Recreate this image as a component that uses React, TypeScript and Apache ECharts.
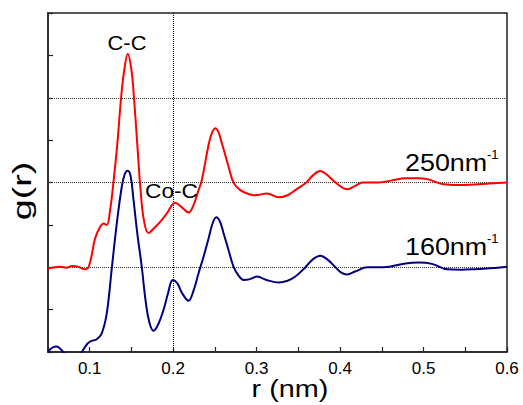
import React, { useEffect, useRef } from "react";
import * as echarts from "echarts";

// r (nm) and g(r) for the 250 nm^-1 curve (offset baseline 4)
const redR = [0.05, 0.058, 0.065, 0.072, 0.079, 0.085, 0.09, 0.0944, 0.098, 0.102, 0.1064, 0.1124, 0.1164, 0.1204, 0.1244, 0.1284, 0.133, 0.1376, 0.141, 0.1456, 0.15, 0.153, 0.157, 0.161, 0.165, 0.1704, 0.177, 0.1844, 0.1924, 0.2024, 0.21, 0.2184, 0.224, 0.2304, 0.2344, 0.242, 0.246, 0.2504, 0.254, 0.2584, 0.2624, 0.2664, 0.2724, 0.2804, 0.29, 0.2984, 0.3124, 0.3264, 0.337, 0.3464, 0.3596, 0.368, 0.3764, 0.385, 0.3944, 0.4088, 0.418, 0.4268, 0.446, 0.462, 0.4784, 0.4928, 0.5048, 0.524, 0.548, 0.575, 0.6];
const redG = [1.97, 2.0, 2.01, 1.99, 2.03, 2.02, 1.98, 1.95, 1.98, 2.25, 2.68, 2.95, 3.03, 3.0, 3.35, 4.0, 4.9, 6.0, 6.6, 7.04, 6.65, 6.0, 4.9, 3.8, 3.1, 2.81, 2.92, 3.07, 3.27, 3.52, 3.42, 3.29, 3.45, 3.82, 4.06, 4.85, 5.15, 5.28, 5.2, 4.92, 4.65, 4.37, 3.99, 3.82, 3.73, 3.7, 3.74, 3.65, 3.7, 3.82, 4.0, 4.18, 4.27, 4.17, 4.0, 3.84, 3.92, 4.0, 4.0, 4.05, 4.1, 4.1, 4.08, 3.96, 3.94, 3.97, 4.0];

// r (nm) and g(r) for the 160 nm^-1 curve (offset baseline 2)
const blueR = [0.05, 0.055, 0.0604, 0.066, 0.0704, 0.078, 0.085, 0.0904, 0.0944, 0.0984, 0.1034, 0.1084, 0.1144, 0.1204, 0.1264, 0.1324, 0.1384, 0.142, 0.1456, 0.149, 0.1524, 0.157, 0.1624, 0.167, 0.1714, 0.1764, 0.182, 0.1884, 0.194, 0.1996, 0.205, 0.2104, 0.2184, 0.2244, 0.2304, 0.2364, 0.2424, 0.247, 0.2516, 0.256, 0.2604, 0.2664, 0.2724, 0.2784, 0.2844, 0.292, 0.3004, 0.312, 0.3264, 0.337, 0.3464, 0.3584, 0.367, 0.3764, 0.385, 0.3944, 0.401, 0.4084, 0.418, 0.4328, 0.452, 0.4784, 0.494, 0.51, 0.5288, 0.545, 0.5648, 0.585, 0.6];
const blueG = [0.0, 0.1, 0.13, 0.05, -0.05, -0.2, -0.12, 0.0, 0.12, 0.22, 0.27, 0.3, 0.44, 0.91, 1.97, 3.03, 3.9, 4.2, 4.28, 4.15, 3.6, 2.8, 2.0, 1.2, 0.7, 0.5, 0.65, 0.99, 1.4, 1.7, 1.62, 1.4, 1.21, 1.45, 1.86, 2.25, 2.68, 3.02, 3.18, 3.08, 2.8, 2.4, 2.01, 1.8, 1.7, 1.72, 1.78, 1.7, 1.64, 1.68, 1.78, 2.0, 2.18, 2.27, 2.18, 2.0, 1.88, 1.83, 1.9, 2.0, 2.0, 2.09, 2.11, 2.08, 1.95, 1.94, 1.96, 1.98, 2.01];

const xTickLabels = ["0.1", "0.2", "0.3", "0.4", "0.5", "0.6"];
const hLines = [2, 4, 6];
const vLines = [0.2];

const FONT = "'Liberation Sans', Arial, sans-serif";

export default function App() {
  const ref = useRef<HTMLDivElement>(null);
  useEffect(() => {
    if (!ref.current) return;
    const chart = echarts.init(ref.current, null, { renderer: "svg" });
    const red = redR.map((r, i) => [r, redG[i]]);
    const blue = blueR.map((r, i) => [r, blueG[i]]);
    const textEl = (text: string, x: number, y: number, size: number, align: string, scaleX = 1, rotation = 0) => ({
      type: "text",
      x,
      y,
      scaleX,
      rotation,
      z: 100,
      style: { text, fontSize: size, fontFamily: FONT, fill: "#000", align, verticalAlign: "middle" },
    });
    chart.setOption({
      animation: false,
      backgroundColor: "#fff",
      grid: { left: 48, top: 13, right: 16, bottom: 53, show: true, borderColor: "#222", borderWidth: 1.5, backgroundColor: "transparent" },
      xAxis: {
        type: "value",
        min: 0.05,
        max: 0.6,
        interval: 0.05,
        axisLine: { show: true, lineStyle: { color: "#222", width: 1.5 } },
        axisTick: { show: true, inside: true, length: 5, lineStyle: { color: "#222", width: 1.2 } },
        axisLabel: {
          fontSize: 17,
          fontFamily: FONT,
          color: "#000",
          margin: 8,
          formatter: (v: number) => {
            const s = (Math.round(v * 100) / 100).toFixed(1);
            return Math.abs(v * 10 - Math.round(v * 10)) < 1e-6 && xTickLabels.includes(s) ? s : "";
          },
        },
        splitLine: { show: false },
      },
      yAxis: {
        type: "value",
        min: 0,
        max: 8,
        interval: 1,
        axisLine: { show: true, lineStyle: { color: "#333", width: 2 } },
        axisTick: { show: true, inside: true, length: 5, lineStyle: { color: "#222", width: 1.2 } },
        axisLabel: { show: false },
        splitLine: { show: false },
      },
      series: [
        {
          type: "line",
          data: [],
          z: 1,
          silent: true,
          markLine: {
            silent: true,
            z: 1,
            symbol: "none",
            label: { show: false },
            lineStyle: { type: "dotted", color: "#333", width: 1 },
            data: [...hLines.map((v) => ({ yAxis: v })), ...vLines.map((v) => ({ xAxis: v, lineStyle: { color: "#000", type: "dotted", width: 1 } }))],
          },
        },
        {
          type: "line",
          data: red,
          z: 3,
          smooth: 0.4,
          showSymbol: false,
          lineStyle: { color: "#ff0000", width: 2 },
        },
        {
          type: "line",
          data: blue,
          z: 3,
          smooth: 0.4,
          showSymbol: false,
          lineStyle: { color: "#000080", width: 2 },
        },
      ],
      graphic: [
        textEl("C-C", 127, 43, 19.5, "center", 1.12),
        textEl("Co-C", 171.5, 190.5, 21, "center", 1.08),
        textEl("250nm", 405, 162.5, 24, "left", 1.12),
        textEl("-1", 487, 154, 13, "left", 1),
        textEl("160nm", 405, 246.5, 24, "left", 1.12),
        textEl("-1", 487, 238, 13, "left", 1),
        textEl("r (nm)", 290, 389, 24, "center", 1.2),
        textEl("g(r)", 22, 191, 26, "center", 1.45, Math.PI / 2),
      ],
    });
    return () => chart.dispose();
  }, []);
  return <div ref={ref} style={{ position: "fixed", left: 0, top: 0, width: 523, height: 405 }} />;
}
